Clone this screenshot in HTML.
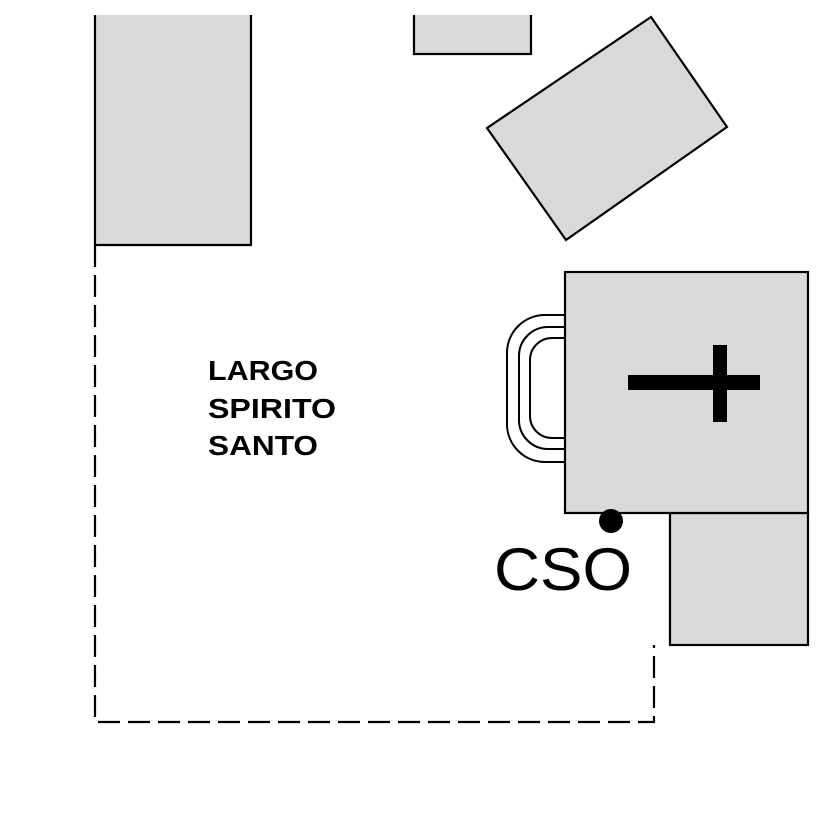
<!DOCTYPE html>
<html><head><meta charset="utf-8"><style>html,body{margin:0;padding:0;background:#fff}</style></head>
<body>
<svg width="826" height="826" viewBox="0 0 826 826" xmlns="http://www.w3.org/2000/svg">
<rect width="826" height="826" fill="#fff"/>
<g fill="#d9d9d9" stroke="#000" stroke-width="2.2">
<path d="M95,15 V245 H251 V15"/>
<path d="M414,15 V54 H531 V15"/>
<polygon points="487,128 651,17 727,127 566,240"/>
<rect x="670" y="513" width="138" height="132"/>
<rect x="565" y="272" width="243" height="241"/>
</g>
<g fill="none" stroke="#000" stroke-width="2.2" stroke-dasharray="22,8">
<path d="M95,245 V722 H654 V645"/>
</g>
<g fill="none" stroke="#000" stroke-width="2">
<path d="M564,315 H545 A38,38 0 0 0 507,353 V424 A38,38 0 0 0 545,462 H564"/>
<path d="M564,327 H548 A29,29 0 0 0 519,356 V420 A29,29 0 0 0 548,449 H564"/>
<path d="M564,338 H552 A22,22 0 0 0 530,360 V416 A22,22 0 0 0 552,438 H564"/>
</g>
<rect x="628" y="375" width="132" height="15" fill="#000"/>
<rect x="713" y="345" width="14" height="77" fill="#000"/>
<circle cx="611" cy="521" r="12" fill="#000"/>
<g font-family="Liberation Sans, Arial, sans-serif" fill="#000">
<text x="208" y="380" font-size="28" font-weight="bold" textLength="110" lengthAdjust="spacingAndGlyphs">LARGO</text>
<text x="208" y="418" font-size="28" font-weight="bold" textLength="128" lengthAdjust="spacingAndGlyphs">SPIRITO</text>
<text x="208" y="455" font-size="28" font-weight="bold" textLength="110" lengthAdjust="spacingAndGlyphs">SANTO</text>
<text x="494" y="590" font-size="60" textLength="138" lengthAdjust="spacingAndGlyphs">CSO</text>
</g>
</svg>
</body></html>
